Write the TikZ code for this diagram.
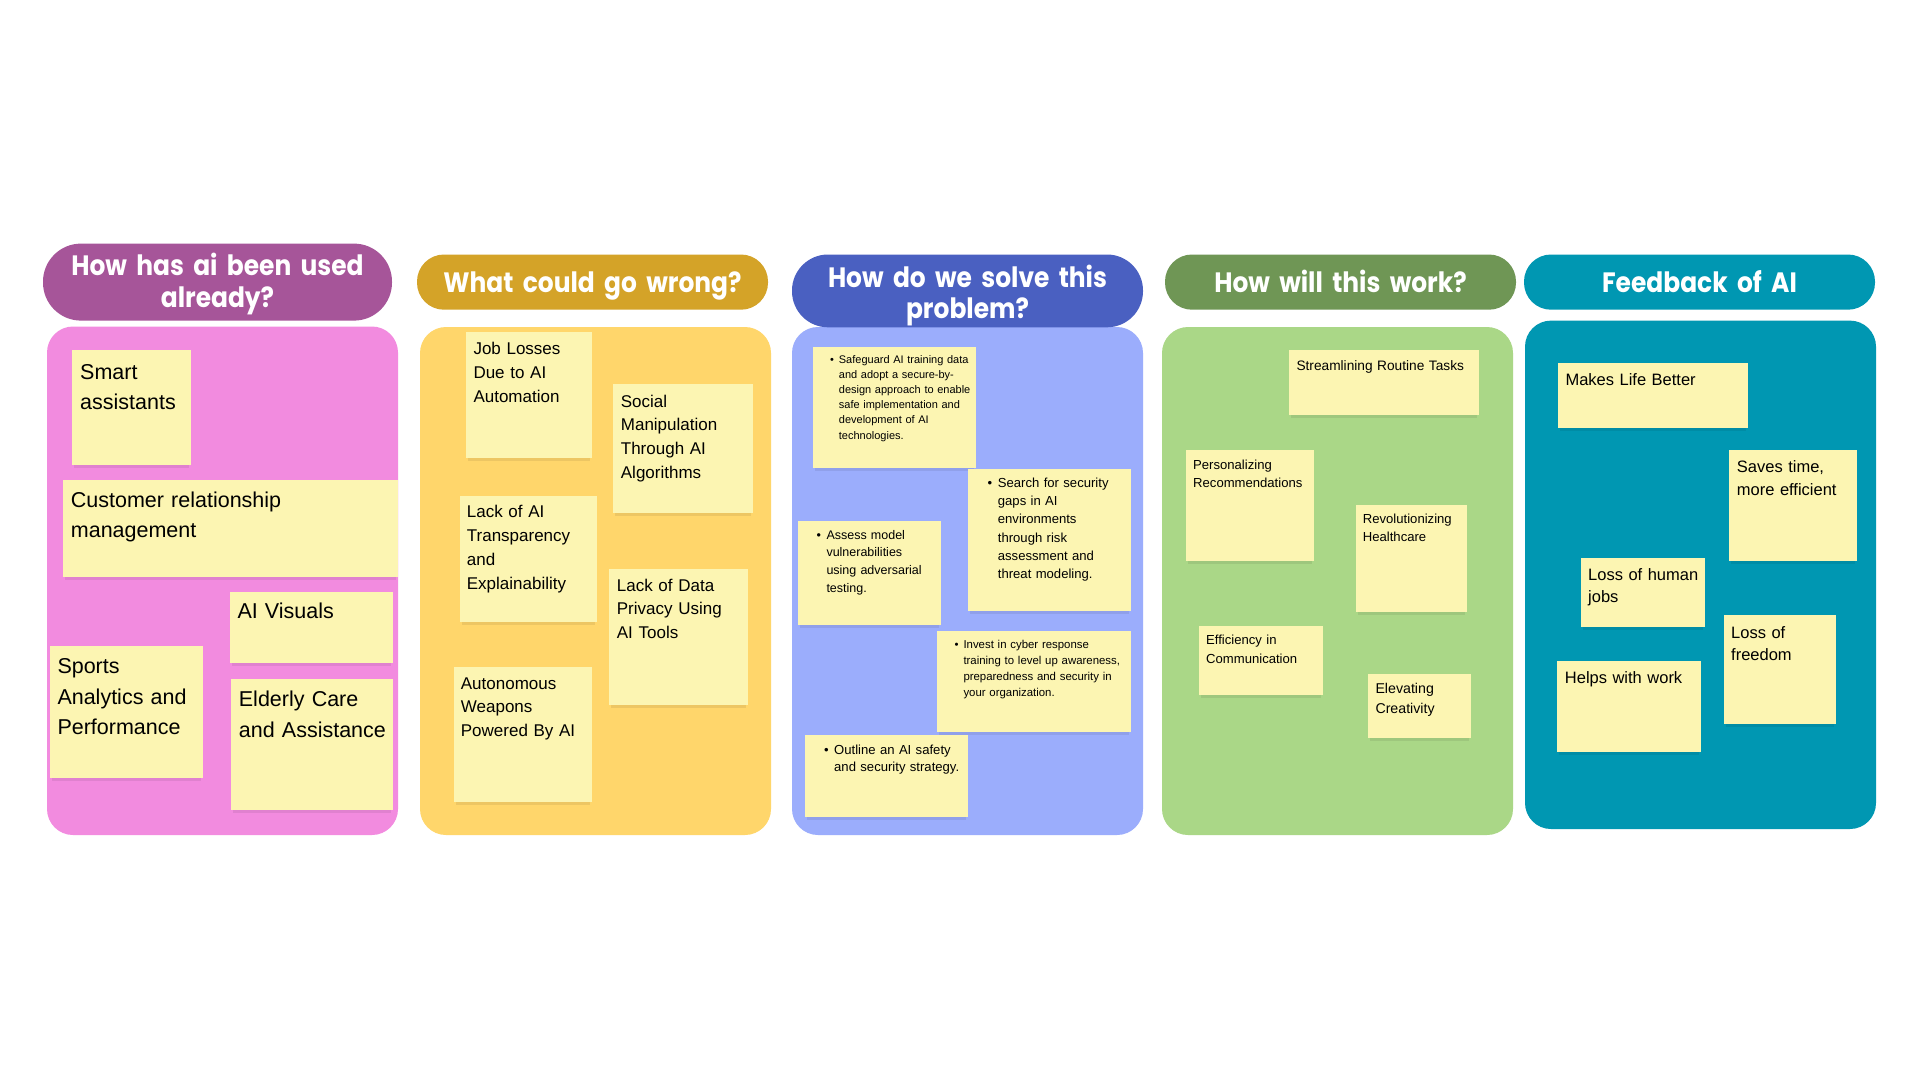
\documentclass[tikz,border=0pt]{standalone}
\usepackage{fontspec}
\setmainfont{Liberation Sans}
\newfontfamily\headfont[FakeStretch=0.89]{Poppins}

\definecolor{purplehead}{RGB}{166,85,153}
\definecolor{pinkbody}{RGB}{242,139,223}
\definecolor{goldhead}{RGB}{212,163,40}
\definecolor{amberbody}{RGB}{255,214,107}
\definecolor{bluehead}{RGB}{74,96,193}
\definecolor{bluebody}{RGB}{155,173,252}
\definecolor{greenhead}{RGB}{111,150,85}
\definecolor{greenbody}{RGB}{170,215,135}
\definecolor{tealhead}{RGB}{0,151,178}
\definecolor{tealbody}{RGB}{0,151,178}
\definecolor{notefill}{RGB}{252,245,178}

\tikzset{
  panel/.style={rounded corners=26pt},
  notebox/.style={fill=notefill, draw=none, anchor=north west, inner sep=0pt, outer sep=0pt},
  noteshadow/.style={fill=black, opacity=0.07},
  notetext/.style={anchor=base west, inner sep=0pt, align=left, text=black, text width=#1},
  notetext/.default=200pt,
  bulletmark/.style={anchor=base west, inner sep=0pt, text=black},
  headtext/.style={anchor=base, inner sep=0pt, align=center, text=white, text width=340pt,
    font=\headfont\bfseries\fontsize{28}{31.5}\selectfont},
}

% sticky note: name, left, top, right, bottom
\newcommand\sticky[5]{%
  \fill[noteshadow] (#2+2,#5-1) rectangle (#4-2,#5+3);
  \node[notebox, minimum width=#4pt-#2pt, minimum height=#5pt-#3pt] (#1) at (#2,#3) {};
}

\begin{document}
\begin{tikzpicture}[x=1pt, y=-1pt]
\useasboundingbox (0,0) rectangle (1920,1080);
\fill[white] (0,0) rectangle (1920,1080);

% ---------- column 1: uses so far ----------
\fill[pinkbody, panel] (47,326.5) rectangle (398,835);
\fill[purplehead, rounded corners=38pt] (43,243.6) rectangle (392,320.6);
\node[headtext] (h1) at (217.5,275.9) {How has ai been used\\already?};

\begin{scope}[font=\fontsize{21.5}{30.5}\selectfont]
\sticky{smart}{72}{349.8}{191}{464.6}
\node[notetext] (smartt) at (80,379) {Smart\\assistants};
\sticky{crm}{63}{479.7}{398}{577}
\node[notetext=320pt] (crmt) at (70.7,507) {Customer relationship\\management};
\sticky{visual}{230}{591.8}{393}{662.6}
\node[notetext] (visualt) at (237.3,618.2) {AI Visuals};
\sticky{sports}{50}{646}{203}{777.7}
\node[notetext] (sportst) at (57.3,673.5) {Sports\\Analytics and\\Performance};
\sticky{elder}{231}{679}{393}{810.4}
\node[notetext] (eldert) at (238.7,706.5) {Elderly Care\\and Assistance};
\end{scope}

% ---------- column 2: risks ----------
\fill[amberbody, panel] (420,327) rectangle (771,835);
\fill[goldhead, rounded corners=27pt] (417,254.5) rectangle (768,309.7);
\node[headtext] (h2) at (592.5,292.2) {What could go wrong?};

\begin{scope}[font=\fontsize{17}{23.8}\selectfont]
\sticky{jobs}{466}{332}{592}{458}
\node[notetext] (jobst) at (473.3,354.5) {Job Losses\\Due to AI\\Automation};
\sticky{social}{613}{384.4}{753}{512.8}
\node[notetext] (socialt) at (620.7,407) {Social\\Manipulation\\Through AI\\Algorithms};
\sticky{transp}{460}{495.7}{597}{621.7}
\node[notetext] (transpt) at (466.7,517.9) {Lack of AI\\Transparency\\and\\Explainability};
\sticky{privacy}{609}{569.2}{748}{704.6}
\node[notetext] (privacyt) at (616.7,591) {Lack of Data\\Privacy Using\\AI Tools};
\sticky{weapons}{454}{666.8}{592}{801.8}
\node[notetext] (weaponst) at (460.7,689) {Autonomous\\Weapons\\Powered By AI};
\end{scope}

% ---------- column 3: remedies ----------
\fill[bluebody, panel] (792,327) rectangle (1143,835);
\fill[bluehead, rounded corners=36pt] (792,254.5) rectangle (1143,327.3);
\node[headtext] (h3) at (967.5,287.2) {How do we solve this\\problem?};

\sticky{guard}{813}{346.7}{976}{468.1}
\begin{scope}[font=\fontsize{11}{15.2}\selectfont]
\node[bulletmark] (guardb) at (830,363) {•};
\node[notetext] (guardt) at (838.7,363) {Safeguard AI training data\\and adopt a secure-by-\\design approach to enable\\safe implementation and\\development of AI\\technologies.};
\end{scope}
\sticky{gaps}{968}{468.5}{1131}{611.2}
\begin{scope}[font=\fontsize{13.1}{18.2}\selectfont]
\node[bulletmark] (gapsb) at (987.5,487.5) {•};
\node[notetext] (gapst) at (997.7,487.5) {Search for security\\gaps in AI\\environments\\through risk\\assessment and\\threat modeling.};
\end{scope}
\sticky{assess}{798}{520.6}{941}{624.8}
\begin{scope}[font=\fontsize{12.5}{17.6}\selectfont]
\node[bulletmark] (assessb) at (816.5,539.3) {•};
\node[notetext] (assesst) at (826.3,539.3) {Assess model\\vulnerabilities\\using adversarial\\testing.};
\end{scope}
\sticky{cyber}{937}{630.7}{1131}{731.8}
\begin{scope}[font=\fontsize{11.4}{16.1}\selectfont]
\node[bulletmark] (cyberb) at (954.5,648.2) {•};
\node[notetext] (cybert) at (963.3,648.2) {Invest in cyber response\\training to level up awareness,\\preparedness and security in\\your organization.};
\end{scope}
\sticky{outline}{805}{735}{968}{816.6}
\begin{scope}[font=\fontsize{13.1}{17.9}\selectfont]
\node[bulletmark] (outlineb) at (824,754) {•};
\node[notetext] (outlinet) at (834,754) {Outline an AI safety\\and security strategy.};
\end{scope}

% ---------- column 4: how it works ----------
\fill[greenbody, panel] (1162,327) rectangle (1513,835);
\fill[greenhead, rounded corners=27pt] (1165,254.5) rectangle (1516,309.7);
\node[headtext] (h4) at (1340.5,292.2) {How will this work?};

\sticky{routine}{1289}{349.8}{1479}{414.8}
\node[notetext, font=\fontsize{13.7}{18}\selectfont] (routinet) at (1296.3,370.8) {Streamlining Routine Tasks};
\sticky{recom}{1186}{450.2}{1314}{561.4}
\node[notetext, font=\fontsize{13.1}{18.3}\selectfont] (recomt) at (1193,469.2) {Personalizing\\Recommendations};
\sticky{health}{1356}{504.6}{1467}{612.4}
\node[notetext, font=\fontsize{13.1}{17.5}\selectfont] (healtht) at (1362.7,523.7) {Revolutionizing\\Healthcare};
\sticky{comm}{1199}{626}{1323}{694.9}
\node[notetext, font=\fontsize{13.1}{18.7}\selectfont] (commt) at (1206,644.3) {Efficiency in\\Communication};
\sticky{creative}{1368}{673.8}{1471}{738.4}
\node[notetext, font=\fontsize{14.2}{19.4}\selectfont] (creativet) at (1375.3,693.7) {Elevating\\Creativity};

% ---------- column 5: feedback ----------
\fill[tealbody, panel] (1525,320.6) rectangle (1876,829);
\fill[tealhead, rounded corners=27pt] (1524,254.5) rectangle (1875,309.7);
\node[headtext] (h5) at (1699.5,292.2) {Feedback of AI};

\begin{scope}[font=\fontsize{16.5}{22.3}\selectfont]
\sticky{better}{1558}{362.6}{1748}{427.6}
\node[notetext] (bettert) at (1565.3,385.6) {Makes Life Better};
\sticky{saves}{1729}{450.2}{1857}{561.4}
\node[notetext] (savest) at (1736.7,472.7) {Saves time,\\more efficient};
\sticky{humanjobs}{1581}{557.5}{1705}{626.8}
\node[notetext] (humanjobst) at (1588,580.1) {Loss of human\\jobs};
\sticky{freedom}{1724}{615.1}{1836}{723.6}
\node[notetext] (freedomt) at (1731,638) {Loss of\\freedom};
\sticky{helps}{1557}{661}{1701}{752.4}
\node[notetext] (helpst) at (1564.7,683.2) {Helps with work};
\end{scope}
\end{tikzpicture}
\end{document}
